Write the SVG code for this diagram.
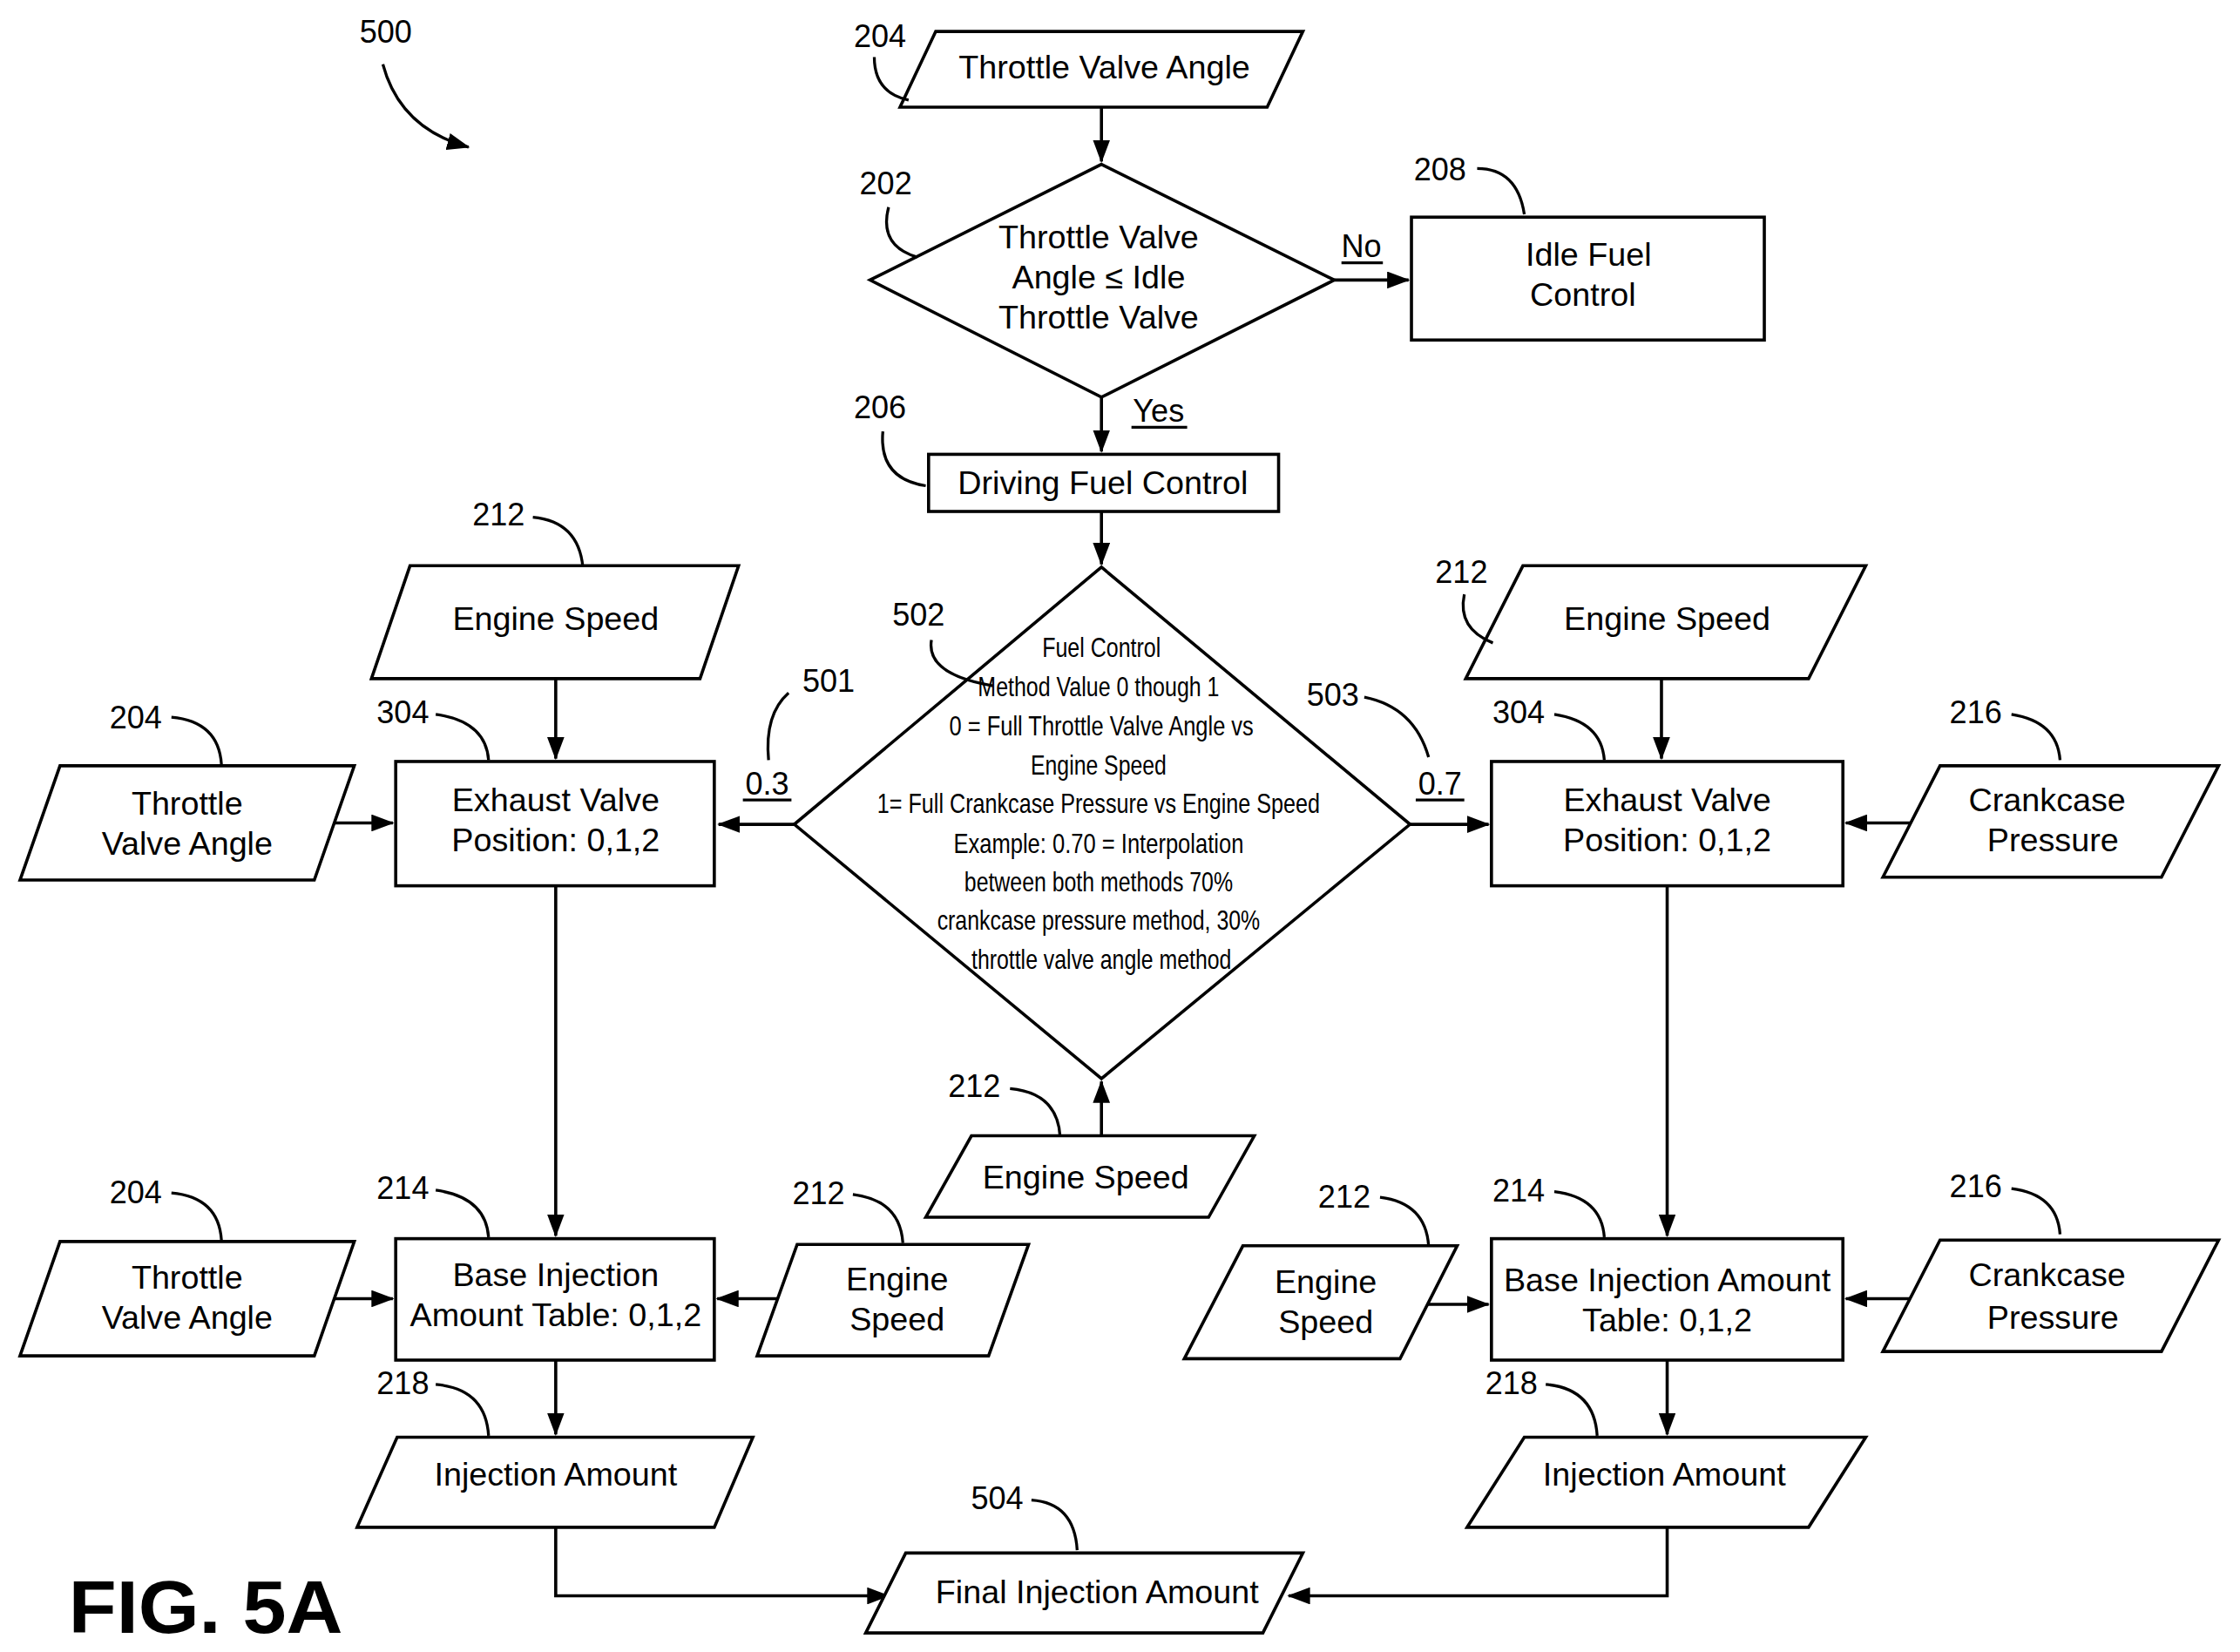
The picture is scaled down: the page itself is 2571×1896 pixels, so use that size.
<svg xmlns="http://www.w3.org/2000/svg" width="2571" height="1896" viewBox="0 0 2571 1896">
<style>
.s{fill:#fff;stroke:#000;stroke-width:2.2}
.t{font-family:"Liberation Sans",Arial,sans-serif;font-size:23px;text-anchor:middle;fill:#000}
.n{font-family:"Liberation Sans",Arial,sans-serif;font-size:22px;text-anchor:middle;fill:#000}
.d{font-family:"Liberation Sans",Arial,sans-serif;font-size:19px;text-anchor:middle;fill:#000}
.l{fill:none;stroke:#000;stroke-width:2}
.c{fill:none;stroke:#000;stroke-width:2.2}
</style>
<defs><marker id="b" markerWidth="16" markerHeight="12" refX="15" refY="6" orient="auto" markerUnits="userSpaceOnUse"><path d="M0,0 L16,6 L0,12 z"/></marker></defs>
<rect width="2571" height="1896" fill="#fff"/>
<g transform="scale(1.6397)">
<g id="connectors">
<path class="c" d="M771,75 V113" marker-end="url(#b)"/>
<path class="c" d="M934,196 H986" marker-end="url(#b)"/>
<path class="c" d="M771,278 V316" marker-end="url(#b)"/>
<path class="c" d="M771,358 V395" marker-end="url(#b)"/>
<path class="c" d="M556,577 H503" marker-end="url(#b)"/>
<path class="c" d="M987,577 H1042" marker-end="url(#b)"/>
<path class="c" d="M389,475 V531" marker-end="url(#b)"/>
<path class="c" d="M220,576 H275" marker-end="url(#b)"/>
<path class="c" d="M389,620 V865" marker-end="url(#b)"/>
<path class="c" d="M220,909 H275" marker-end="url(#b)"/>
<path class="c" d="M558,909 H502" marker-end="url(#b)"/>
<path class="c" d="M389,952 V1004" marker-end="url(#b)"/>
<path class="c" d="M389,1069 V1117 H622" marker-end="url(#b)"/>
<path class="c" d="M1167,1069 V1117 H902" marker-end="url(#b)"/>
<path class="c" d="M771,795 V757" marker-end="url(#b)"/>
<path class="c" d="M1163,475 V531" marker-end="url(#b)"/>
<path class="c" d="M1345,576 H1292" marker-end="url(#b)"/>
<path class="c" d="M1167,620 V865" marker-end="url(#b)"/>
<path class="c" d="M985,913 H1042" marker-end="url(#b)"/>
<path class="c" d="M1345,909 H1292" marker-end="url(#b)"/>
<path class="c" d="M1167,952 V1004" marker-end="url(#b)"/>
<path class="l" d="M268,45 Q280,90 328,103" marker-end="url(#b)"/>
<text class="n" x="270" y="30">500</text>
<text class="n" x="953" y="180">No</text><path class="l" d="M939,184 H968"/>
<text class="n" x="811" y="295">Yes</text><path class="l" d="M792,299 H831"/>
<text class="n" x="537" y="556">0.3</text><path class="l" d="M520,560 H554"/>
<text class="n" x="1008" y="556">0.7</text><path class="l" d="M991,560 H1025"/>
<text class="n" x="580" y="484">501</text><path class="l" d="M552,485 Q535,500 538,532"/>
<text class="n" x="933" y="494">503</text><path class="l" d="M955,488 Q990,495 1000,530"/>
</g>
<g id="n204top"><polygon class="s" points="630,75 655,22 912,22 887,75"/><text class="t" x="773" y="55">Throttle Valve Angle</text><text class="n" x="616" y="33">204</text><path class="l" d="M612,40 Q612,65 636,70"/></g>
<g id="n202"><polygon class="s" points="771,115 934,196 771,278 609,196"/><text class="t" x="769" y="174">Throttle Valve</text><text class="t" x="769" y="202">Angle ≤ Idle</text><text class="t" x="769" y="230">Throttle Valve</text><text class="n" x="620" y="136">202</text><path class="l" d="M622,145 Q615,172 642,180"/></g>
<g id="n208"><rect class="s" x="988" y="152" width="247" height="86"/><text class="t" x="1112" y="186">Idle Fuel</text><text class="t" x="1108" y="214">Control</text><text class="n" x="1008" y="126">208</text><path class="l" d="M1034,118 Q1062,118 1067,150"/></g>
<g id="n206"><rect class="s" x="650" y="318" width="245" height="40"/><text class="t" x="772" y="346">Driving Fuel Control</text><text class="n" x="616" y="293">206</text><path class="l" d="M618,302 Q615,335 648,340"/></g>
<g id="n502"><polygon class="s" points="771,397 987,577 771,755 556,577"/>
<text class="d" x="771" y="460" textLength="83" lengthAdjust="spacingAndGlyphs">Fuel Control</text>
<text class="d" x="769" y="487" textLength="169" lengthAdjust="spacingAndGlyphs">Method Value 0 though 1</text>
<text class="d" x="771" y="515" textLength="213" lengthAdjust="spacingAndGlyphs">0 = Full Throttle Valve Angle vs</text>
<text class="d" x="769" y="542" textLength="95" lengthAdjust="spacingAndGlyphs">Engine Speed</text>
<text class="d" x="769" y="569" textLength="310" lengthAdjust="spacingAndGlyphs">1= Full Crankcase Pressure vs Engine Speed</text>
<text class="d" x="769" y="597" textLength="203" lengthAdjust="spacingAndGlyphs">Example:  0.70 = Interpolation</text>
<text class="d" x="769" y="624" textLength="188" lengthAdjust="spacingAndGlyphs">between both methods 70%</text>
<text class="d" x="769" y="651" textLength="226" lengthAdjust="spacingAndGlyphs">crankcase pressure method, 30%</text>
<text class="d" x="771" y="678" textLength="182" lengthAdjust="spacingAndGlyphs">throttle valve angle method</text>
<text class="n" x="643" y="438">502</text><path class="l" d="M652,448 Q648,472 695,480"/></g>
<g id="n212L"><polygon class="s" points="260,475 287,396 517,396 490,475"/><text class="t" x="389" y="441">Engine Speed</text><text class="n" x="349" y="368">212</text><path class="l" d="M373,362 Q405,365 408,397"/></g>
<g id="n304L"><rect class="s" x="277" y="533" width="223" height="87"/><text class="t" x="389" y="568">Exhaust Valve</text><text class="t" x="389" y="596">Position: 0,1,2</text><text class="n" x="282" y="506">304</text><path class="l" d="M305,500 Q340,505 342,532"/></g>
<g id="n204L"><polygon class="s" points="14,616 42,536 248,536 220,616"/><text class="t" x="131" y="570">Throttle</text><text class="t" x="131" y="598">Valve Angle</text><text class="n" x="95" y="510">204</text><path class="l" d="M120,502 Q153,505 155,535"/></g>
<g id="n214L"><rect class="s" x="277" y="867" width="223" height="85"/><text class="t" x="389" y="900">Base Injection</text><text class="t" x="389" y="928">Amount Table: 0,1,2</text><text class="n" x="282" y="839">214</text><path class="l" d="M305,833 Q340,838 342,866"/></g>
<g id="n204L2"><polygon class="s" points="14,949 42,869 248,869 220,949"/><text class="t" x="131" y="902">Throttle</text><text class="t" x="131" y="930">Valve Angle</text><text class="n" x="95" y="842">204</text><path class="l" d="M120,835 Q153,838 155,868"/></g>
<g id="n212L2"><polygon class="s" points="530,949 558,871 720,871 692,949"/><text class="t" x="628" y="903">Engine</text><text class="t" x="628" y="931">Speed</text><text class="n" x="573" y="843">212</text><path class="l" d="M597,836 Q630,840 632,870"/></g>
<g id="n218L"><polygon class="s" points="250,1069 278,1006 527,1006 500,1069"/><text class="t" x="389" y="1040">Injection Amount</text><text class="n" x="282" y="976">218</text><path class="l" d="M305,969 Q340,972 342,1005"/></g>
<g id="n504"><polygon class="s" points="606,1143 634,1087 912,1087 884,1143"/><text class="t" x="768" y="1122">Final Injection Amount</text><text class="n" x="698" y="1056">504</text><path class="l" d="M722,1050 Q752,1052 754,1085"/></g>
<g id="n212C"><polygon class="s" points="648,852 680,795 878,795 846,852"/><text class="t" x="760" y="832">Engine Speed</text><text class="n" x="682" y="768">212</text><path class="l" d="M707,762 Q740,765 742,795"/></g>
<g id="n212R"><polygon class="s" points="1026,475 1066,396 1306,396 1266,475"/><text class="t" x="1167" y="441">Engine Speed</text><text class="n" x="1023" y="408">212</text><path class="l" d="M1025,416 Q1020,440 1045,450"/></g>
<g id="n304R"><rect class="s" x="1044" y="533" width="246" height="87"/><text class="t" x="1167" y="568">Exhaust Valve</text><text class="t" x="1167" y="596">Position: 0,1,2</text><text class="n" x="1063" y="506">304</text><path class="l" d="M1088,500 Q1121,505 1123,532"/></g>
<g id="n216R"><polygon class="s" points="1318,614 1358,536 1553,536 1513,614"/><text class="t" x="1433" y="568">Crankcase</text><text class="t" x="1437" y="596">Pressure</text><text class="n" x="1383" y="506">216</text><path class="l" d="M1408,500 Q1440,505 1442,532"/></g>
<g id="n214R"><rect class="s" x="1044" y="867" width="246" height="85"/><text class="t" x="1167" y="904">Base Injection Amount</text><text class="t" x="1167" y="932">Table: 0,1,2</text><text class="n" x="1063" y="841">214</text><path class="l" d="M1088,834 Q1121,838 1123,866"/></g>
<g id="n212R2"><polygon class="s" points="829,951 870,872 1020,872 980,951"/><text class="t" x="928" y="905">Engine</text><text class="t" x="928" y="933">Speed</text><text class="n" x="941" y="845">212</text><path class="l" d="M966,838 Q998,842 1000,872"/></g>
<g id="n216R2"><polygon class="s" points="1318,946 1358,868 1553,868 1513,946"/><text class="t" x="1433" y="900">Crankcase</text><text class="t" x="1437" y="930">Pressure</text><text class="n" x="1383" y="838">216</text><path class="l" d="M1408,832 Q1440,836 1442,864"/></g>
<g id="n218R"><polygon class="s" points="1027,1069 1067,1006 1306,1006 1266,1069"/><text class="t" x="1165" y="1040">Injection Amount</text><text class="n" x="1058" y="976">218</text><path class="l" d="M1082,969 Q1116,972 1118,1005"/></g>
<text x="48" y="1143" style="font-family:'Liberation Sans',Arial,sans-serif;font-size:52px;font-weight:bold" textLength="192" lengthAdjust="spacingAndGlyphs">FIG. 5A</text>
</g>
</svg>
